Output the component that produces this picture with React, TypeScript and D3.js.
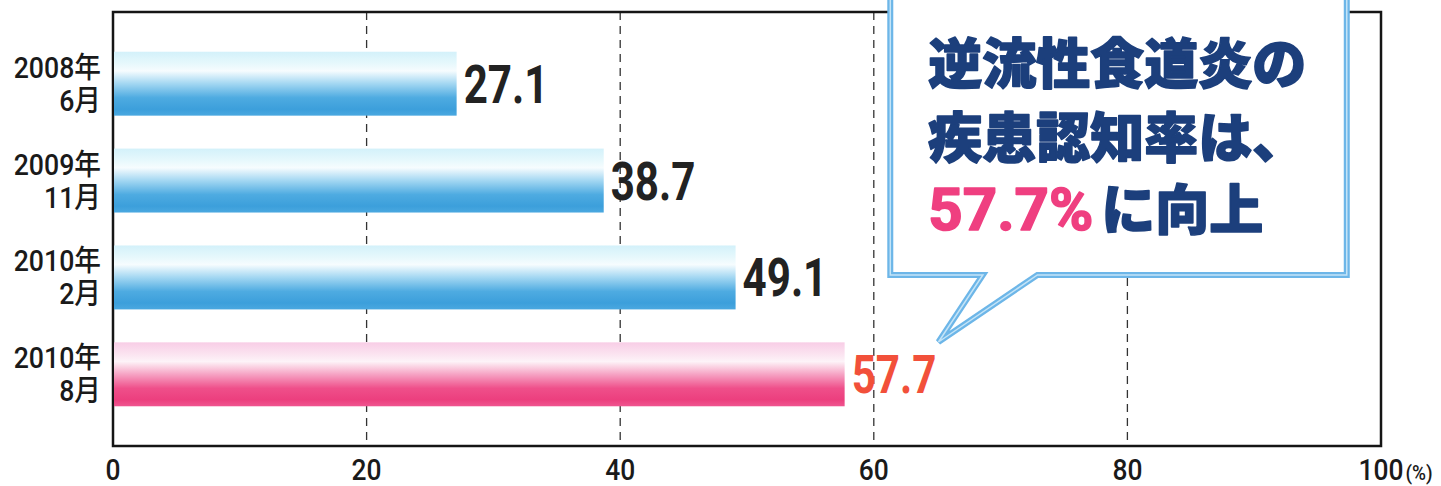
import React, { useEffect, useRef } from 'react';
import * as d3 from 'd3';

const years = ['2008年', '2009年', '2010年', '2010年'];
const months = ['6月', '11月', '2月', '8月'];
const values = [27.1, 38.7, 49.1, 57.7];
const ticks = [0, 20, 40, 60, 80, 100];
const gridTicks = [20, 40, 60, 80];
const calloutLines = ['逆流性食道炎の', '疾患認知率は、'];
const calloutHighlight = '57.7%';
const calloutTail = 'に向上';

const NUM_FONT = "Roboto, 'Noto Sans CJK JP', sans-serif";
const JP_FONT = "'Noto Sans CJK JP', sans-serif";

const App: React.FC = () => {
  const svgRef = useRef<SVGSVGElement>(null);

  useEffect(() => {
    if (!svgRef.current) return;
    const width = 1441;
    const height = 486;
    const margin = { top: 12, right: 60, bottom: 40, left: 113 };

    const svg = d3.select(svgRef.current);
    svg.selectAll('*').remove();
    svg.attr('width', width).attr('height', height);

    const x = d3.scaleLinear().domain([0, 100]).range([margin.left, width - margin.right]);
    const y = d3
      .scaleBand<number>()
      .domain(d3.range(values.length))
      .range([margin.top, height - margin.bottom])
      .paddingInner(0.34)
      .paddingOuter(0.41);

    const defs = svg.append('defs');
    const blue = defs.append('linearGradient').attr('id', 'gBlue').attr('x1', 0).attr('y1', 0).attr('x2', 0).attr('y2', 1);
    [
      [0, '#d3f1fa'],
      [0.18, '#e6f8fc'],
      [0.3, '#f6fcfe'],
      [0.5, '#a3d7f2'],
      [0.72, '#4eabe1'],
      [0.9, '#3c9fdb'],
      [1, '#4aa8e0'],
    ].forEach(([o, c]) => blue.append('stop').attr('offset', o as number).attr('stop-color', c as string));
    const pink = defs.append('linearGradient').attr('id', 'gPink').attr('x1', 0).attr('y1', 0).attr('x2', 0).attr('y2', 1);
    [
      [0, '#f8cde6'],
      [0.18, '#fbe3f0'],
      [0.3, '#fdf3f8'],
      [0.5, '#f6a3c4'],
      [0.72, '#ef4f8a'],
      [0.9, '#ec3f7e'],
      [1, '#ef5590'],
    ].forEach(([o, c]) => pink.append('stop').attr('offset', o as number).attr('stop-color', c as string));

    const top = margin.top;
    const bottom = height - margin.bottom;

    // condensed text helper
    const squeeze = (
      g: d3.Selection<any, unknown, null, undefined>,
      tx: number,
      ty: number,
      sx: number,
      str: string
    ) =>
      g
        .append('text')
        .attr('transform', `translate(${tx},${ty}) scale(${sx},1)`)
        .text(str);

    // grid lines
    svg
      .append('g')
      .selectAll('line')
      .data(gridTicks)
      .enter()
      .append('line')
      .attr('x1', d => x(d))
      .attr('x2', d => x(d))
      .attr('y1', top)
      .attr('y2', bottom)
      .attr('stroke', '#333')
      .attr('stroke-width', 1.3)
      .attr('stroke-dasharray', '8,6');

    // frame
    svg
      .append('rect')
      .attr('x', x(0))
      .attr('y', top)
      .attr('width', x(100) - x(0))
      .attr('height', bottom - top)
      .attr('fill', 'none')
      .attr('stroke', '#151515')
      .attr('stroke-width', 2.5);

    const last = values.length - 1;

    // bars
    svg
      .append('g')
      .selectAll('rect')
      .data(values)
      .enter()
      .append('rect')
      .attr('x', x(0) + 1)
      .attr('y', (_d, i) => y(i)!)
      .attr('width', d => x(d) - x(0) - 1)
      .attr('height', y.bandwidth())
      .attr('fill', (_d, i) => (i === last ? 'url(#gPink)' : 'url(#gBlue)'));

    // value labels
    const vl = svg.append('g').attr('font-family', NUM_FONT).attr('font-weight', 700).attr('font-size', 54);
    values.forEach((v, i) => {
      squeeze(vl, x(v) + 7, y(i)! + y.bandwidth() / 2 + 19, 0.78, v.toFixed(1)).attr(
        'fill',
        i === last ? '#f2503a' : '#222'
      );
    });

    // category labels
    const cat = svg
      .append('g')
      .attr('font-family', NUM_FONT)
      .attr('font-weight', 500)
      .attr('font-size', 29)
      .attr('fill', '#1a1a1a')
      .attr('text-anchor', 'end');
    years.forEach((yr, i) => {
      const c = y(i)! + y.bandwidth() / 2;
      squeeze(cat, 101, c - 6, 0.92, yr);
      squeeze(cat, 101, c + 27, 0.92, months[i]);
    });

    // x tick labels
    const tk = svg
      .append('g')
      .attr('font-family', NUM_FONT)
      .attr('font-weight', 500)
      .attr('font-size', 30)
      .attr('fill', '#1a1a1a')
      .attr('text-anchor', 'middle');
    ticks.forEach(t => {
      squeeze(tk, x(t), 480, 0.88, String(t));
    });
    squeeze(tk, x(100) + 38, 480, 0.95, '(%)').attr('font-size', 20);

    // callout
    const bx0 = x(61.3);
    const bx1 = x(97.3);
    const by0 = -12;
    const by1 = 275;
    const tA = x(68.6);
    const tB = x(72.9);
    const tip = x(65.1);
    const path = d3.path();
    path.moveTo(bx0, by0);
    path.lineTo(bx1, by0);
    path.lineTo(bx1, by1);
    path.lineTo(tB, by1);
    path.lineTo(tip, 342);
    path.lineTo(tA, by1);
    path.lineTo(bx0, by1);
    path.closePath();
    const call = svg.append('g');
    call
      .append('path')
      .attr('d', path.toString())
      .attr('fill', '#fff')
      .attr('stroke', '#6db6e8')
      .attr('stroke-width', 6)
      .attr('stroke-linejoin', 'miter');
    call
      .append('path')
      .attr('d', path.toString())
      .attr('fill', 'none')
      .attr('stroke', '#c4e4f7')
      .attr('stroke-width', 1.5)
      .attr('stroke-linejoin', 'miter');

    const tx = bx0 + 38;
    calloutLines.forEach((ln, i) => {
      call
        .append('text')
        .attr('x', tx)
        .attr('y', 84 + i * 74)
        .attr('font-family', JP_FONT)
        .attr('font-weight', 900)
        .attr('font-size', 54)
        .attr('fill', '#1c3f7c')
        .attr('stroke', '#1c3f7c')
        .attr('stroke-width', 1.6)
        .attr('stroke-linejoin', 'round')
        .text(ln);
    });
    const l3 = call
      .append('text')
      .attr('x', tx)
      .attr('y', 230)
      .attr('font-family', JP_FONT)
      .attr('font-weight', 900)
      .attr('font-size', 54)
      .attr('stroke-width', 1.6)
      .attr('stroke-linejoin', 'round');
    l3.append('tspan')
      .attr('font-family', "Roboto, 'Liberation Sans', sans-serif")
      .attr('font-weight', 700)
      .attr('font-size', 60)
      .attr('fill', '#ef3f80')
      .attr('stroke', '#ef3f80')
      .text(calloutHighlight);
    l3.append('tspan').attr('dx', 8).attr('fill', '#1c3f7c').attr('stroke', '#1c3f7c').text(calloutTail);
  }, []);

  return <svg ref={svgRef} style={{ position: 'absolute', left: 0, top: 0, background: '#fff' }}></svg>;
};

export default App;
